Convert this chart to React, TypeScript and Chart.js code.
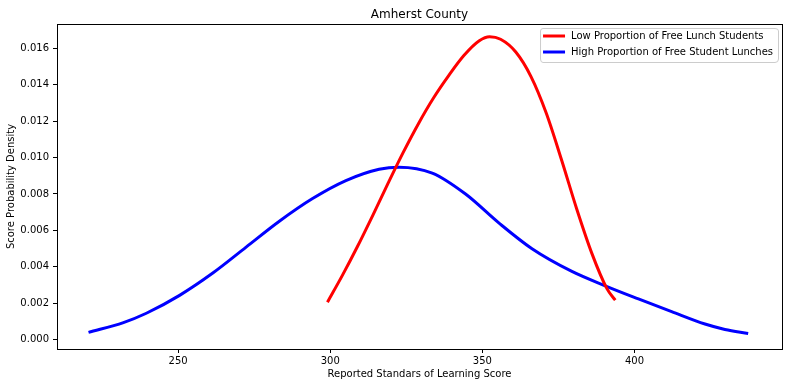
import React, { useEffect, useRef } from "react";
import { Chart, registerables } from "chart.js";

Chart.register(...registerables);

const TITLE = "Amherst County";
const X_LABEL = "Reported Standars of Learning Score";
const Y_LABEL = "Score Probability Density";
const SERIES_LABELS = [
  "Low Proportion of Free Lunch Students",
  "High Proportion of Free Student Lunches",
];
const SERIES_COLORS = ["#ff0000", "#0000ff"];

const lowX = [299.1, 304, 309, 314, 319, 324, 329, 334, 339, 344, 349, 352.4, 356, 361, 366, 371, 376, 381, 386, 391, 393.7];
const lowY = [0.00206, 0.00353, 0.00513, 0.00683, 0.00858, 0.01028, 0.01186, 0.01328, 0.01451, 0.01561, 0.01641, 0.01663, 0.01649, 0.01579, 0.01444, 0.01244, 0.00989, 0.00719, 0.00474, 0.00279, 0.00217];

const highX = [220.56, 232.03, 239.57, 250.49, 261.41, 272.36, 283.28, 294.2, 305.15, 316.07, 322.62, 333.54, 344.49, 355.41, 366.33, 379.44, 390.39, 401.31, 412.23, 423.18, 429.74, 437.38];
const highY = [0.0004, 0.000939, 0.001452, 0.002435, 0.003658, 0.005082, 0.006502, 0.007747, 0.008733, 0.009355, 0.009473, 0.009145, 0.007995, 0.006412, 0.004992, 0.003747, 0.002959, 0.002238, 0.001539, 0.00086, 0.000565, 0.000343];

const X_TICKS = [250, 300, 350, 400];
const Y_TICKS = [0, 0.002, 0.004, 0.006, 0.008, 0.01, 0.012, 0.014, 0.016];
const X_RANGE = [210.2, 448.5];
const Y_RANGE = [-0.00051, 0.01733];

const FONT = "'DejaVu Sans', sans-serif";

const framePlugin = {
  id: "frameAndExtras",
  afterDraw(chart: any) {
    const { ctx, chartArea } = chart;
    const { left, right, top, bottom } = chartArea;
    ctx.save();
    ctx.strokeStyle = "#000";
    ctx.lineWidth = 1;
    ctx.strokeRect(left + 0.5, top + 0.5, right - left, bottom - top);
    ctx.fillStyle = "#000";
    ctx.font = `12px ${FONT}`;
    ctx.textAlign = "center";
    ctx.textBaseline = "alphabetic";
    ctx.fillText(TITLE, (left + right) / 2, 17.5);
    ctx.font = `10px ${FONT}`;
    const textW = Math.max(...SERIES_LABELS.map((s) => ctx.measureText(s).width));
    const boxRight = right - 4;
    const textX = boxRight - 5 - textW;
    const lineX2 = textX - 6;
    const lineX1 = lineX2 - 22;
    const boxLeft = lineX1 - 3;
    const boxTop = top + 4;
    const boxBottom = boxTop + 34;
    const r = 3;
    ctx.beginPath();
    ctx.moveTo(boxLeft + r, boxTop + 0.5);
    ctx.lineTo(boxRight - r, boxTop + 0.5);
    ctx.quadraticCurveTo(boxRight + 0.5, boxTop + 0.5, boxRight + 0.5, boxTop + r);
    ctx.lineTo(boxRight + 0.5, boxBottom - r);
    ctx.quadraticCurveTo(boxRight + 0.5, boxBottom + 0.5, boxRight - r, boxBottom + 0.5);
    ctx.lineTo(boxLeft + r, boxBottom + 0.5);
    ctx.quadraticCurveTo(boxLeft + 0.5, boxBottom + 0.5, boxLeft + 0.5, boxBottom - r);
    ctx.lineTo(boxLeft + 0.5, boxTop + r);
    ctx.quadraticCurveTo(boxLeft + 0.5, boxTop + 0.5, boxLeft + r, boxTop + 0.5);
    ctx.closePath();
    ctx.fillStyle = "rgba(255,255,255,0.8)";
    ctx.fill();
    ctx.strokeStyle = "#cccccc";
    ctx.stroke();
    SERIES_LABELS.forEach((label, i) => {
      const y = boxTop + 8 + i * 16;
      ctx.strokeStyle = SERIES_COLORS[i];
      ctx.lineWidth = 3;
      ctx.beginPath();
      ctx.moveTo(lineX1, y);
      ctx.lineTo(lineX2, y);
      ctx.stroke();
      ctx.fillStyle = "#000";
      ctx.textAlign = "left";
      ctx.textBaseline = "middle";
      ctx.fillText(label, textX, y);
    });
    ctx.restore();
  },
};

export default function App() {
  const canvasRef = useRef<HTMLCanvasElement | null>(null);

  useEffect(() => {
    const canvas = canvasRef.current;
    if (!canvas) return;
    const lowData = lowX.map((x, i) => ({ x, y: lowY[i] }));
    const highData = highX.map((x, i) => ({ x, y: highY[i] }));
    const chart = new Chart(canvas, {
      type: "line",
      data: {
        datasets: [
          {
            label: SERIES_LABELS[0],
            data: lowData,
            borderColor: SERIES_COLORS[0],
            backgroundColor: SERIES_COLORS[0],
            borderWidth: 3,
            pointRadius: 0,
            cubicInterpolationMode: "monotone",
            fill: false,
          },
          {
            label: SERIES_LABELS[1],
            data: highData,
            borderColor: SERIES_COLORS[1],
            backgroundColor: SERIES_COLORS[1],
            borderWidth: 3,
            pointRadius: 0,
            cubicInterpolationMode: "monotone",
            fill: false,
          },
        ],
      },
      options: {
        responsive: false,
        animation: false,
        layout: { padding: { top: 24, right: 7, left: 0, bottom: 0 } },
        plugins: {
          legend: { display: false },
          title: { display: false },
          tooltip: { enabled: false },
        },
        scales: {
          x: {
            type: "linear",
            min: X_RANGE[0],
            max: X_RANGE[1],
            afterFit: (s: any) => {
              s.height = 38;
            },
            afterBuildTicks: (s: any) => {
              s.ticks = X_TICKS.map((v) => ({ value: v }));
            },
            grid: {
              display: true,
              drawOnChartArea: false,
              drawTicks: true,
              tickLength: 4,
              color: "#000",
            },
            border: { display: false },
            ticks: {
              padding: 2,
              color: "#000",
              font: { family: FONT, size: 10 },
              maxRotation: 0,
              callback: (v: any) => String(v),
            },
            title: {
              display: true,
              text: X_LABEL,
              color: "#000",
              font: { family: FONT, size: 10 },
              padding: { top: 2, bottom: 7 },
            },
          },
          y: {
            type: "linear",
            min: Y_RANGE[0],
            max: Y_RANGE[1],
            afterFit: (s: any) => {
              s.width = 57;
            },
            afterBuildTicks: (s: any) => {
              s.ticks = Y_TICKS.map((v) => ({ value: v }));
            },
            grid: {
              display: true,
              drawOnChartArea: false,
              drawTicks: true,
              tickLength: 4,
              color: "#000",
            },
            border: { display: false },
            ticks: {
              padding: 4,
              color: "#000",
              font: { family: FONT, size: 10 },
              callback: (v: any) => Number(v).toFixed(3),
            },
            title: {
              display: true,
              text: Y_LABEL,
              color: "#000",
              font: { family: FONT, size: 10 },
              padding: { top: 5, bottom: 2 },
            },
          },
        },
      },
      plugins: [framePlugin],
    });
    return () => chart.destroy();
  }, []);

  return (
    <div style={{ position: "fixed", left: 0, top: 0, width: 789, height: 387, background: "#fff" }}>
      <canvas ref={canvasRef} width={789} height={387} style={{ display: "block", width: 789, height: 387 }} />
    </div>
  );
}
